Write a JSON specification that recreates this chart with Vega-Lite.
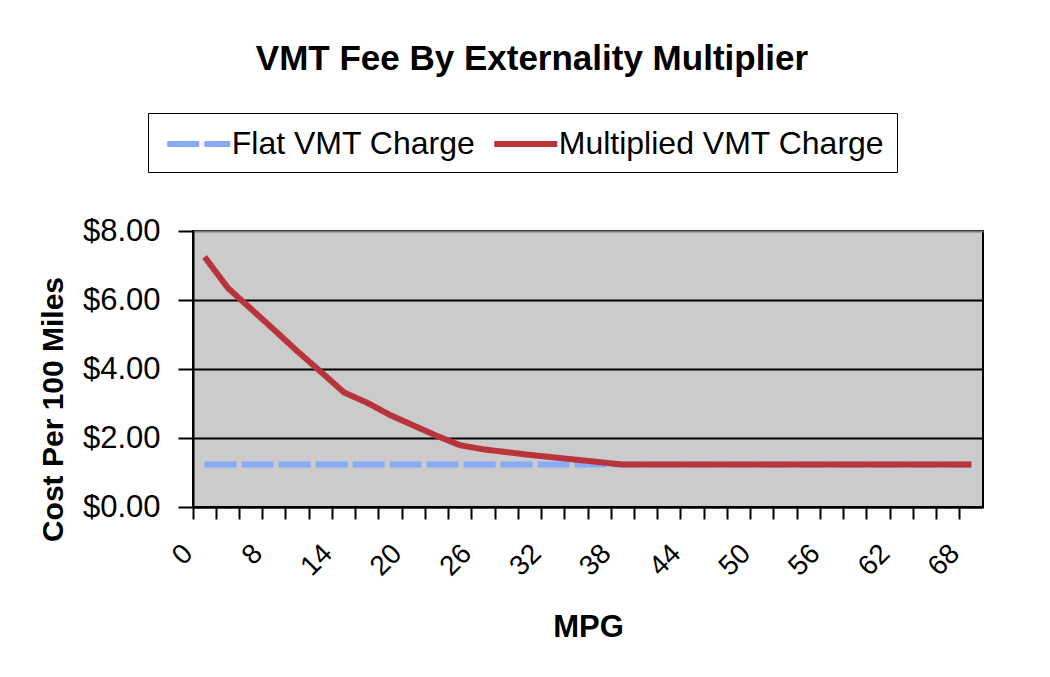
{
  "$schema": "https://vega.github.io/schema/vega-lite/v6.json",
  "width": 790,
  "height": 276,
  "autosize": {"type": "none"},
  "padding": {"left": 193, "top": 231, "right": 67, "bottom": 170},
  "background": "white",
  "title": {
    "text": "VMT Fee By Externality Multiplier",
    "font": "Liberation Sans",
    "fontSize": 35,
    "fontWeight": "bold",
    "color": "black",
    "anchor": "middle",
    "frame": "group",
    "dx": -56,
    "offset": 36
  },
  "data": {
    "values": [
      {"mpg": "0", "series": "Flat VMT Charge", "cost": 1.23},
      {"mpg": "4", "series": "Flat VMT Charge", "cost": 1.23},
      {"mpg": "6", "series": "Flat VMT Charge", "cost": 1.23},
      {"mpg": "8", "series": "Flat VMT Charge", "cost": 1.23},
      {"mpg": "10", "series": "Flat VMT Charge", "cost": 1.23},
      {"mpg": "12", "series": "Flat VMT Charge", "cost": 1.23},
      {"mpg": "14", "series": "Flat VMT Charge", "cost": 1.23},
      {"mpg": "16", "series": "Flat VMT Charge", "cost": 1.23},
      {"mpg": "18", "series": "Flat VMT Charge", "cost": 1.23},
      {"mpg": "20", "series": "Flat VMT Charge", "cost": 1.23},
      {"mpg": "22", "series": "Flat VMT Charge", "cost": 1.23},
      {"mpg": "24", "series": "Flat VMT Charge", "cost": 1.23},
      {"mpg": "26", "series": "Flat VMT Charge", "cost": 1.23},
      {"mpg": "28", "series": "Flat VMT Charge", "cost": 1.23},
      {"mpg": "30", "series": "Flat VMT Charge", "cost": 1.23},
      {"mpg": "32", "series": "Flat VMT Charge", "cost": 1.23},
      {"mpg": "34", "series": "Flat VMT Charge", "cost": 1.23},
      {"mpg": "36", "series": "Flat VMT Charge", "cost": 1.23},
      {"mpg": "38", "series": "Flat VMT Charge", "cost": 1.23},
      {"mpg": "40", "series": "Flat VMT Charge", "cost": 1.23},
      {"mpg": "42", "series": "Flat VMT Charge", "cost": 1.23},
      {"mpg": "44", "series": "Flat VMT Charge", "cost": 1.23},
      {"mpg": "46", "series": "Flat VMT Charge", "cost": 1.23},
      {"mpg": "48", "series": "Flat VMT Charge", "cost": 1.23},
      {"mpg": "50", "series": "Flat VMT Charge", "cost": 1.23},
      {"mpg": "52", "series": "Flat VMT Charge", "cost": 1.23},
      {"mpg": "54", "series": "Flat VMT Charge", "cost": 1.23},
      {"mpg": "56", "series": "Flat VMT Charge", "cost": 1.23},
      {"mpg": "58", "series": "Flat VMT Charge", "cost": 1.23},
      {"mpg": "60", "series": "Flat VMT Charge", "cost": 1.23},
      {"mpg": "62", "series": "Flat VMT Charge", "cost": 1.23},
      {"mpg": "64", "series": "Flat VMT Charge", "cost": 1.23},
      {"mpg": "66", "series": "Flat VMT Charge", "cost": 1.23},
      {"mpg": "68", "series": "Flat VMT Charge", "cost": 1.23},
      {"mpg": "0", "series": "Multiplied VMT Charge", "cost": 7.25},
      {"mpg": "4", "series": "Multiplied VMT Charge", "cost": 6.35},
      {"mpg": "6", "series": "Multiplied VMT Charge", "cost": 5.74},
      {"mpg": "8", "series": "Multiplied VMT Charge", "cost": 5.13},
      {"mpg": "10", "series": "Multiplied VMT Charge", "cost": 4.51},
      {"mpg": "12", "series": "Multiplied VMT Charge", "cost": 3.92},
      {"mpg": "14", "series": "Multiplied VMT Charge", "cost": 3.32},
      {"mpg": "16", "series": "Multiplied VMT Charge", "cost": 3.02},
      {"mpg": "18", "series": "Multiplied VMT Charge", "cost": 2.66},
      {"mpg": "20", "series": "Multiplied VMT Charge", "cost": 2.36},
      {"mpg": "22", "series": "Multiplied VMT Charge", "cost": 2.06},
      {"mpg": "24", "series": "Multiplied VMT Charge", "cost": 1.79},
      {"mpg": "26", "series": "Multiplied VMT Charge", "cost": 1.67},
      {"mpg": "28", "series": "Multiplied VMT Charge", "cost": 1.59},
      {"mpg": "30", "series": "Multiplied VMT Charge", "cost": 1.51},
      {"mpg": "32", "series": "Multiplied VMT Charge", "cost": 1.44},
      {"mpg": "34", "series": "Multiplied VMT Charge", "cost": 1.37},
      {"mpg": "36", "series": "Multiplied VMT Charge", "cost": 1.30},
      {"mpg": "38", "series": "Multiplied VMT Charge", "cost": 1.23},
      {"mpg": "40", "series": "Multiplied VMT Charge", "cost": 1.23},
      {"mpg": "42", "series": "Multiplied VMT Charge", "cost": 1.23},
      {"mpg": "44", "series": "Multiplied VMT Charge", "cost": 1.23},
      {"mpg": "46", "series": "Multiplied VMT Charge", "cost": 1.23},
      {"mpg": "48", "series": "Multiplied VMT Charge", "cost": 1.23},
      {"mpg": "50", "series": "Multiplied VMT Charge", "cost": 1.23},
      {"mpg": "52", "series": "Multiplied VMT Charge", "cost": 1.23},
      {"mpg": "54", "series": "Multiplied VMT Charge", "cost": 1.23},
      {"mpg": "56", "series": "Multiplied VMT Charge", "cost": 1.23},
      {"mpg": "58", "series": "Multiplied VMT Charge", "cost": 1.23},
      {"mpg": "60", "series": "Multiplied VMT Charge", "cost": 1.23},
      {"mpg": "62", "series": "Multiplied VMT Charge", "cost": 1.23},
      {"mpg": "64", "series": "Multiplied VMT Charge", "cost": 1.23},
      {"mpg": "66", "series": "Multiplied VMT Charge", "cost": 1.23},
      {"mpg": "68", "series": "Multiplied VMT Charge", "cost": 1.23}
    ]
  },
  "mark": {"type": "line", "strokeWidth": 6, "strokeCap": "butt", "strokeJoin": "round"},
  "encoding": {
    "x": {
      "field": "mpg",
      "type": "ordinal",
      "sort": null,
      "bandPosition": 0.5,
      "scale": {"type": "band", "paddingInner": 0, "paddingOuter": 0},
      "axis": {
        "title": "MPG",
        "bandPosition": 0,
        "labelAngle": -45,
        "labelAlign": "right",
        "labelBaseline": "middle",
        "labelFont": "Liberation Sans",
        "labelFontSize": 28,
        "labelColor": "black",
        "labelPadding": 30,
        "labelOffset": -16,
        "labelOverlap": false,
        "labelExpr": "datum.value == '0' || (toNumber(datum.value) - 8) % 6 == 0 ? datum.value : ''",
        "tickSize": 12,
        "tickWidth": 2,
        "tickColor": "black",
        "domainColor": "black",
        "domainWidth": 2,
        "grid": false,
        "titleFont": "Liberation Sans",
        "titleFontSize": 31,
        "titleFontWeight": "bold",
        "titleColor": "black",
        "titleBaseline": "alphabetic",
        "titleY": 129
      }
    },
    "y": {
      "field": "cost",
      "type": "quantitative",
      "scale": {"domain": [0, 8], "nice": false, "zero": true},
      "axis": {
        "title": "Cost Per 100 Miles",
        "values": [0, 2, 4, 6, 8],
        "format": "$.2f",
        "labelFont": "Liberation Sans",
        "labelFontSize": 31,
        "labelColor": "black",
        "labelPadding": 18,
        "tickSize": 15,
        "tickWidth": 2,
        "tickColor": "black",
        "domainColor": "black",
        "domainWidth": 2,
        "grid": true,
        "gridColor": {"condition": {"test": "datum.value == 8", "value": "#7a7a7a"}, "value": "black"},
        "gridWidth": 2,
        "gridOpacity": 1,
        "titleFont": "Liberation Sans",
        "titleFontSize": 30,
        "titleFontWeight": "bold",
        "titleColor": "black",
        "titleAngle": 270,
        "titleAlign": "center",
        "titleBaseline": "alphabetic",
        "titleX": -131,
        "titleY": 178
      }
    },
    "color": {
      "field": "series",
      "type": "nominal",
      "scale": {"domain": ["Flat VMT Charge", "Multiplied VMT Charge"], "range": ["#88AAF8", "#B8333A"]},
      "legend": {"title": null}
    },
    "strokeDash": {
      "field": "series",
      "type": "nominal",
      "scale": {"domain": ["Flat VMT Charge", "Multiplied VMT Charge"], "range": [[32, 5], [1, 0]]},
      "legend": {"title": null}
    }
  },
  "config": {
    "view": {"fill": "#CBCBCB", "stroke": "black", "strokeWidth": 2},
    "legend": {
      "orient": "none",
      "legendX": -45,
      "legendY": -118,
      "direction": "horizontal",
      "strokeColor": "black",
      "padding": 12,
      "symbolType": "M-2,0H2",
      "symbolSize": 992,
      "symbolOffset": 19.75,
      "symbolStrokeWidth": 6,
      "labelFont": "Liberation Sans",
      "labelFontSize": 32,
      "labelColor": "black",
      "labelOffset": 14,
      "labelLimit": 0,
      "columnPadding": 6
    }
  }
}
